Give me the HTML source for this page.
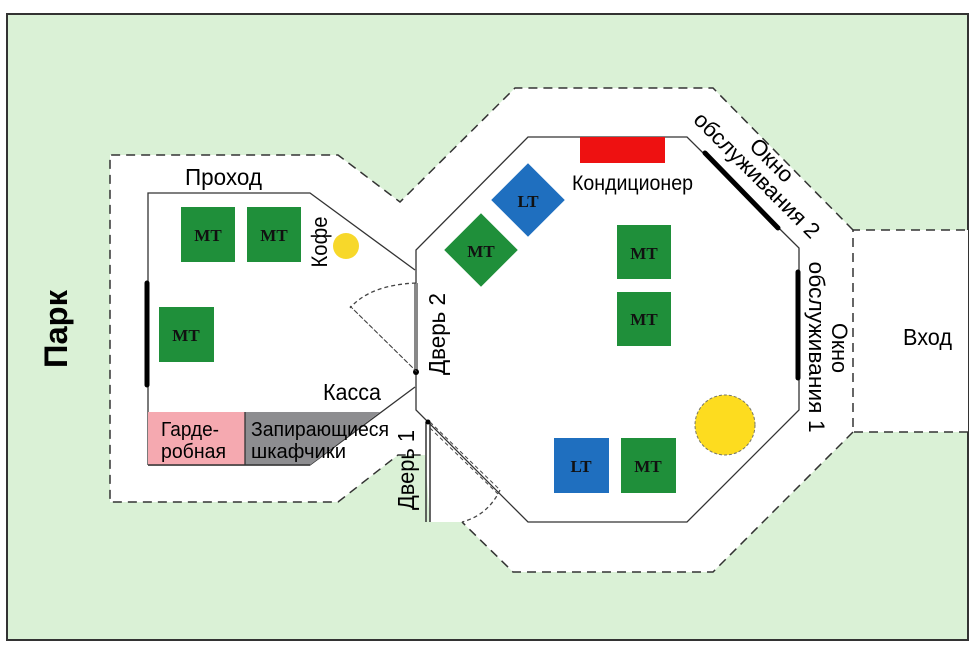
<!DOCTYPE html>
<html><head><meta charset="utf-8"><style>
body{margin:0;background:#fff;}
svg{display:block;}
text{font-family:"Liberation Sans",sans-serif;fill:#000;}
.mt{font-family:"Liberation Serif",serif;font-weight:bold;font-size:17px;fill:#111;}
</style></head><body>
<svg width="980" height="653" viewBox="0 0 980 653" xmlns="http://www.w3.org/2000/svg">
<rect x="7" y="14" width="961" height="626" fill="#daf1d6" stroke="#333" stroke-width="2"/>
<polygon points="110,155 338,155 400,202 515,88 713,88 853,230 968,230 968,432 853,432 713,572 513,572 462,522 430,522 425,455 398,455 338,502 110,502" fill="#fff"/>
<polyline points="853,432 713,572 513,572 462,522" fill="none" stroke="#333" stroke-width="1.5" stroke-dasharray="9,6"/>
<polyline points="968,432 853,432 853,230 968,230" fill="none" stroke="#333" stroke-width="1.5" stroke-dasharray="9,6"/>
<polyline points="853,230 713,88 515,88 400,202 338,155 110,155 110,502 338,502 398,455 425,455" fill="none" stroke="#333" stroke-width="1.5" stroke-dasharray="9,6"/>
<polyline points="148,465 148,193 310,193 415,270" fill="none" stroke="#333" stroke-width="1.3"/>
<polyline points="148,465 310,465 415,387" fill="none" stroke="#333" stroke-width="1.3"/>
<polygon points="528,137 687,137 799,248 799,410 687,522 528,522 416,410 416,250" fill="none" stroke="#333" stroke-width="1.3"/>
<rect x="148" y="412" width="97" height="53" fill="#f5a9b0"/>
<polygon points="245,412 380,412 310,465 245,465" fill="#8d8d90"/>
<line x1="245" y1="412" x2="245" y2="465" stroke="#333" stroke-width="1.3"/>
<line x1="148" y1="465" x2="310" y2="465" stroke="#333" stroke-width="1.5"/>
<line x1="147" y1="283" x2="147" y2="385" stroke="#000" stroke-width="5" stroke-linecap="round"/>
<line x1="705" y1="153" x2="778" y2="228" stroke="#000" stroke-width="5" stroke-linecap="round"/>
<line x1="798" y1="272" x2="798" y2="378" stroke="#000" stroke-width="5" stroke-linecap="round"/>
<line x1="416" y1="283" x2="416" y2="372" stroke="#888" stroke-width="4"/>
<circle cx="416" cy="372" r="3" fill="#000"/>
<path d="M416,283 Q370,285 350,308" fill="none" stroke="#444" stroke-width="1.3" stroke-dasharray="4,3"/>
<line x1="350" y1="306" x2="414" y2="369" stroke="#444" stroke-width="1" stroke-dasharray="4,3"/>
<line x1="354" y1="310" x2="418" y2="373" stroke="#444" stroke-width="1" stroke-dasharray="4,3"/>
<line x1="426" y1="422" x2="426" y2="522" stroke="#333" stroke-width="1.5"/>
<line x1="430" y1="422" x2="430" y2="522" stroke="#333" stroke-width="1.5"/>
<circle cx="428" cy="422" r="2.5" fill="#000"/>
<line x1="430" y1="422" x2="500" y2="490" stroke="#444" stroke-width="1" stroke-dasharray="4,3"/>
<line x1="430" y1="428" x2="498" y2="494" stroke="#444" stroke-width="1" stroke-dasharray="4,3"/>
<path d="M500,490 Q488,515 462,522" fill="none" stroke="#444" stroke-width="1.3" stroke-dasharray="4,3"/>
<rect x="181" y="207" width="54" height="55" fill="#1f8f3a"/><text class="mt" x="208" y="241" text-anchor="middle">MT</text>
<rect x="247" y="207" width="54" height="55" fill="#1f8f3a"/><text class="mt" x="274" y="241" text-anchor="middle">MT</text>
<rect x="159" y="307" width="55" height="55" fill="#1f8f3a"/><text class="mt" x="186" y="341" text-anchor="middle">MT</text>
<circle cx="346" cy="246" r="13" fill="#f7d82a"/>
<text x="0" y="0" font-size="22" text-anchor="middle" textLength="51" lengthAdjust="spacingAndGlyphs" transform="translate(327,242) rotate(-90)">Кофе</text>
<rect x="580" y="137" width="85" height="26" fill="#ee1111"/>
<g transform="translate(528,200) rotate(45)"><rect x="-26" y="-26" width="52" height="52" fill="#1f6fbf"/></g>
<text class="mt" x="528" y="207" text-anchor="middle">LT</text>
<g transform="translate(481,250) rotate(45)"><rect x="-26" y="-26" width="52" height="52" fill="#1f8f3a"/></g>
<text class="mt" x="481" y="257" text-anchor="middle">MT</text>
<rect x="617" y="225" width="54" height="54" fill="#1f8f3a"/><text class="mt" x="644" y="259" text-anchor="middle">MT</text>
<rect x="617" y="292" width="54" height="54" fill="#1f8f3a"/><text class="mt" x="644" y="325" text-anchor="middle">MT</text>
<rect x="554" y="438" width="55" height="55" fill="#1f6fbf"/><text class="mt" x="581" y="472" text-anchor="middle">LT</text>
<rect x="621" y="438" width="55" height="55" fill="#1f8f3a"/><text class="mt" x="648" y="472" text-anchor="middle">MT</text>
<circle cx="725" cy="425" r="30" fill="#fddc1f" stroke="#776" stroke-width="1" stroke-dasharray="3,2"/>
<text x="185" y="185" font-size="23" textLength="77" lengthAdjust="spacingAndGlyphs">Проход</text>
<text x="323" y="400" font-size="23" textLength="58" lengthAdjust="spacingAndGlyphs">Касса</text>
<text x="572" y="190" font-size="21" textLength="121" lengthAdjust="spacingAndGlyphs">Кондиционер</text>
<text x="903" y="345" font-size="23" textLength="49" lengthAdjust="spacingAndGlyphs">Вход</text>
<text x="161" y="436" font-size="20" textLength="58" lengthAdjust="spacingAndGlyphs">Гарде-</text>
<text x="161" y="458" font-size="20" textLength="65" lengthAdjust="spacingAndGlyphs">робная</text>
<text x="251" y="436" font-size="20" textLength="138" lengthAdjust="spacingAndGlyphs">Запирающиеся</text>
<text x="251" y="458" font-size="20" textLength="95" lengthAdjust="spacingAndGlyphs">шкафчики</text>
<text x="0" y="0" font-size="32" font-weight="bold" text-anchor="middle" textLength="78" lengthAdjust="spacingAndGlyphs" transform="translate(67,329) rotate(-90)">Парк</text>
<text x="0" y="0" font-size="23" text-anchor="middle" textLength="82" lengthAdjust="spacingAndGlyphs" transform="translate(445,334) rotate(-90)">Дверь 2</text>
<text x="0" y="0" font-size="23" text-anchor="middle" textLength="80" lengthAdjust="spacingAndGlyphs" transform="translate(414,470) rotate(-90)">Дверь 1</text>
<g transform="translate(758,174) rotate(45)">
<text x="0" y="-12" font-size="22" text-anchor="middle" textLength="52" lengthAdjust="spacingAndGlyphs">Окно</text>
<text x="0" y="9" font-size="22" text-anchor="middle" textLength="168" lengthAdjust="spacingAndGlyphs">обслуживания 2</text>
</g>
<text x="0" y="0" font-size="22" text-anchor="middle" textLength="171" lengthAdjust="spacingAndGlyphs" transform="translate(809,347) rotate(90)">обслуживания 1</text>
<text x="0" y="0" font-size="22" text-anchor="middle" textLength="50" lengthAdjust="spacingAndGlyphs" transform="translate(832,348) rotate(90)">Окно</text>
</svg>
</body></html>
